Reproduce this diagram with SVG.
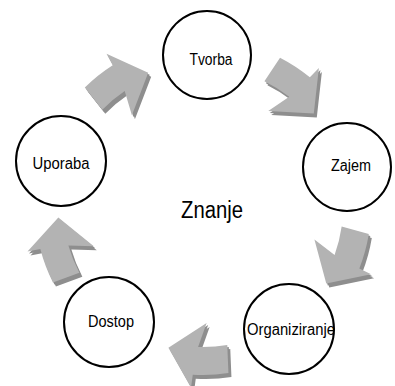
<svg xmlns="http://www.w3.org/2000/svg" xmlns:xlink="http://www.w3.org/1999/xlink" width="395" height="386" viewBox="0 0 395 386">
  <style>
    .node circle { fill: #ffffff; stroke: #000000; stroke-width: 2; }
    .label { font-family: "Liberation Sans", Arial, sans-serif; font-size: 16px; fill: #000000; text-anchor: middle; }
    .title { font-family: "Liberation Sans", Arial, sans-serif; font-size: 23px; fill: #000000; text-anchor: middle; }
    .side { fill: #8e8e8e; }
    .face { fill: #b3b3b3; }
  </style>
  <defs>
    <!-- curved block arrow, drawn around the cycle centre (origin) -->
    <path id="arc-arrow" d="M-118.2,-119.4 L-100.7,-97.3 A140,140 0 0 1 -78.3,-116.1 L-71.1,-91.7 L-54.8,-134.3 L-96.5,-153.2 L-90.3,-141.7 A168,168 0 0 0 -118.2,-119.4 Z"/>
  </defs>

  <!-- connectors: five arrows rotated in 72 degree steps; the darker copy is offset down-right for depth -->
  <g id="connectors">
    <g id="arrow-uporaba-tvorba">
      <use xlink:href="#arc-arrow" class="side" transform="translate(204.5,209) rotate(0)"/>
      <use xlink:href="#arc-arrow" class="side" transform="translate(206,211) rotate(0)"/>
      <use xlink:href="#arc-arrow" class="face" transform="translate(203,207) rotate(0)"/>
    </g>
    <g id="arrow-tvorba-zajem">
      <use xlink:href="#arc-arrow" class="side" transform="translate(204.5,209) rotate(72)"/>
      <use xlink:href="#arc-arrow" class="side" transform="translate(206,211) rotate(72)"/>
      <use xlink:href="#arc-arrow" class="face" transform="translate(203,207) rotate(72)"/>
    </g>
    <g id="arrow-zajem-organiziranje">
      <use xlink:href="#arc-arrow" class="side" transform="translate(204.5,209) rotate(144)"/>
      <use xlink:href="#arc-arrow" class="side" transform="translate(206,211) rotate(144)"/>
      <use xlink:href="#arc-arrow" class="face" transform="translate(203,207) rotate(144)"/>
    </g>
    <g id="arrow-organiziranje-dostop">
      <use xlink:href="#arc-arrow" class="side" transform="translate(204.5,209) rotate(216)"/>
      <use xlink:href="#arc-arrow" class="side" transform="translate(206,211) rotate(216)"/>
      <use xlink:href="#arc-arrow" class="face" transform="translate(203,207) rotate(216)"/>
    </g>
    <g id="arrow-dostop-uporaba">
      <use xlink:href="#arc-arrow" class="side" transform="translate(204.5,209) rotate(288)"/>
      <use xlink:href="#arc-arrow" class="side" transform="translate(206,211) rotate(288)"/>
      <use xlink:href="#arc-arrow" class="face" transform="translate(203,207) rotate(288)"/>
    </g>
  </g>

  <g id="tvorba" class="node">
    <circle cx="207" cy="55" r="44"/>
    <text class="label" x="211" y="65" textLength="43" lengthAdjust="spacingAndGlyphs">Tvorba</text>
  </g>
  <g id="zajem" class="node">
    <circle cx="347" cy="167" r="44"/>
    <text class="label" x="351" y="171" textLength="40" lengthAdjust="spacingAndGlyphs">Zajem</text>
  </g>
  <g id="organiziranje" class="node">
    <circle cx="289" cy="329" r="45"/>
    <text class="label" x="291" y="335" textLength="88" lengthAdjust="spacingAndGlyphs">Organiziranje</text>
  </g>
  <g id="dostop" class="node">
    <circle cx="109" cy="322" r="45"/>
    <text class="label" x="111" y="327" textLength="46" lengthAdjust="spacingAndGlyphs">Dostop</text>
  </g>
  <g id="uporaba" class="node">
    <circle cx="61" cy="161" r="45"/>
    <text class="label" x="61" y="169" textLength="57" lengthAdjust="spacingAndGlyphs">Uporaba</text>
  </g>
  <g id="znanje">
    <text class="title" x="212" y="218" textLength="62" lengthAdjust="spacingAndGlyphs">Znanje</text>
  </g>
</svg>
